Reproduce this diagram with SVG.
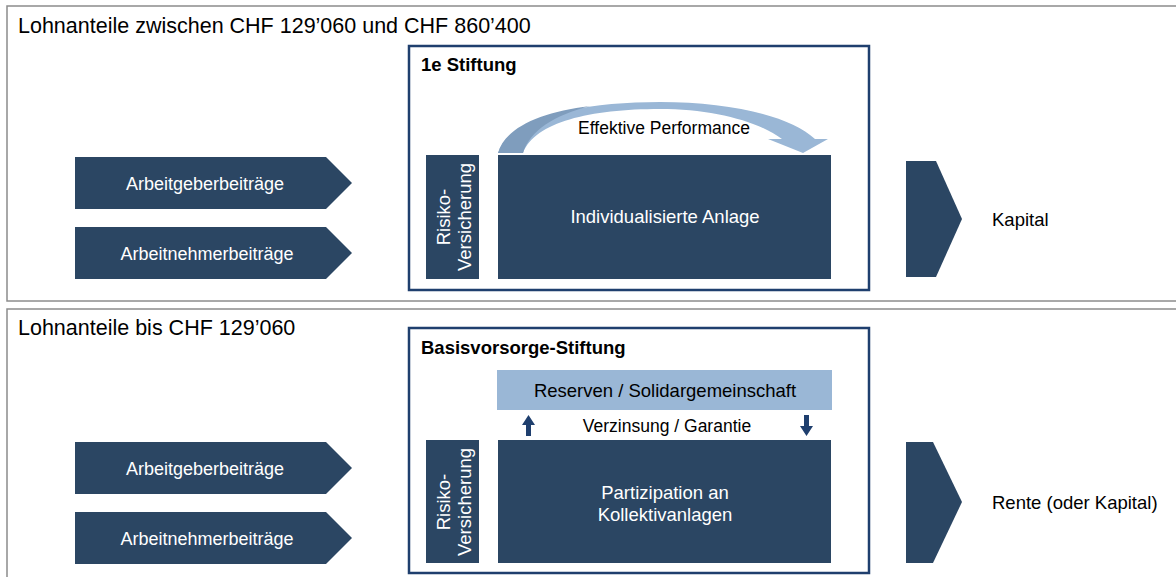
<svg xmlns="http://www.w3.org/2000/svg" width="1176" height="577" viewBox="0 0 1176 577">
<style>
.panel{fill:#fff;stroke:#8c8c8c;stroke-width:1.5}
.frame{fill:#fff;stroke:#1f3f6e;stroke-width:2.5}
.dark{fill:#2b4663}
.light{fill:#9ab7d6}
text{font-family:"Liberation Sans",Arial,sans-serif}
.hdr{font-size:21.5px;fill:#000}
.ttl{font-size:18.5px;font-weight:bold;fill:#000}
.w{font-size:18.5px;fill:#fff;text-anchor:middle}
.chev{font-size:18px}
.rot{font-size:18.5px}
.b{font-size:18.5px;fill:#000}
.bc{font-size:17.5px;fill:#000;text-anchor:middle}
</style>
<rect width="1176" height="577" fill="#fff"/>
<g id="panel-top">
<rect class="panel" x="7" y="6" width="1180" height="295"/>
<text class="hdr" x="18" y="33">Lohnanteile zwischen CHF 129’060 und CHF 860’400</text>
</g>
<g id="panel-bottom">
<rect class="panel" x="7" y="309" width="1180" height="290"/>
<text class="hdr" x="18" y="335">Lohnanteile bis CHF 129’060</text>
</g>
<g id="ag-top">
<polygon class="dark" points="75,157 326,157 352,183 326,209 75,209"/>
<text class="w chev" x="205" y="189.5">Arbeitgeberbeiträge</text>
</g>
<g id="an-top">
<polygon class="dark" points="75,227 326,227 352,253 326,279 75,279"/>
<text class="w chev" x="207" y="259.5">Arbeitnehmerbeiträge</text>
</g>
<g id="stiftung-1e">
<rect class="frame" x="409" y="46" width="460" height="244"/>
<text class="ttl" x="421" y="71">1e Stiftung</text>
</g>
<g id="risiko-top">
<rect class="dark" x="426" y="155" width="53" height="124"/>
<text class="w rot" transform="translate(450,217) rotate(-90)">Risiko-</text>
<text class="w rot" transform="translate(471,217) rotate(-90)">Versicherung</text>
</g>
<g id="anlage-top">
<rect class="dark" x="498" y="155" width="333" height="124"/>
<text class="w" x="665" y="223">Individualisierte Anlage</text>
</g>
<g id="performance-arrow">
<path class="light" d="M498,153 C508,118 580,102 660,102 C730,102 790,116 815,139 L828,139 L803,153 L768,139 L782,139 C758,121 712,109 660,109 C590,109 535,122 523,153 Z"/>
<path fill="#7f9dbd" d="M498,153 C505,128 540,112 590,106 C555,115 530,130 523,153 Z"/>
<text class="bc" x="664" y="134">Effektive Performance</text>
</g>
<g id="out-kapital">
<polygon class="dark" points="906,161 936,161 962,219 936,277 906,277"/>
<text class="b" x="992" y="226">Kapital</text>
</g>
<g id="ag-bottom">
<polygon class="dark" points="75,442 326,442 352,468 326,494 75,494"/>
<text class="w chev" x="205" y="474.5">Arbeitgeberbeiträge</text>
</g>
<g id="an-bottom">
<polygon class="dark" points="75,512 326,512 352,538 326,564 75,564"/>
<text class="w chev" x="207" y="544.5">Arbeitnehmerbeiträge</text>
</g>
<g id="stiftung-basis">
<rect class="frame" x="409" y="328" width="460" height="245"/>
<text class="ttl" x="421" y="354">Basisvorsorge-Stiftung</text>
</g>
<g id="reserven">
<rect class="light" x="497" y="370" width="335" height="40"/>
<text class="bc" x="665" y="396.5" style="font-size:18.5px">Reserven / Solidargemeinschaft</text>
</g>
<g id="risiko-bottom">
<rect class="dark" x="426" y="440" width="53" height="123"/>
<text class="w rot" transform="translate(450,502) rotate(-90)">Risiko-</text>
<text class="w rot" transform="translate(471,502) rotate(-90)">Versicherung</text>
</g>
<g id="partizipation">
<rect class="dark" x="498" y="440" width="333" height="123"/>
<text class="w" x="665" y="499">Partizipation an</text>
<text class="w" x="665" y="521">Kollektivanlagen</text>
</g>
<g id="connectors">
<path fill="#1f3f6e" d="M526,436 L526,425 L522,425 L528.5,415 L535,425 L531,425 L531,436 Z"/>
<path fill="#1f3f6e" d="M804,415 L809,415 L809,426 L813,426 L806.5,436 L800,426 L804,426 Z"/>
<text class="bc" x="667" y="432">Verzinsung / Garantie</text>
<polygon class="dark" points="906,442 933,442 962,502 933,563 906,563"/>
<text class="b" x="992" y="509">Rente (oder Kapital)</text>
</g>
</svg>
